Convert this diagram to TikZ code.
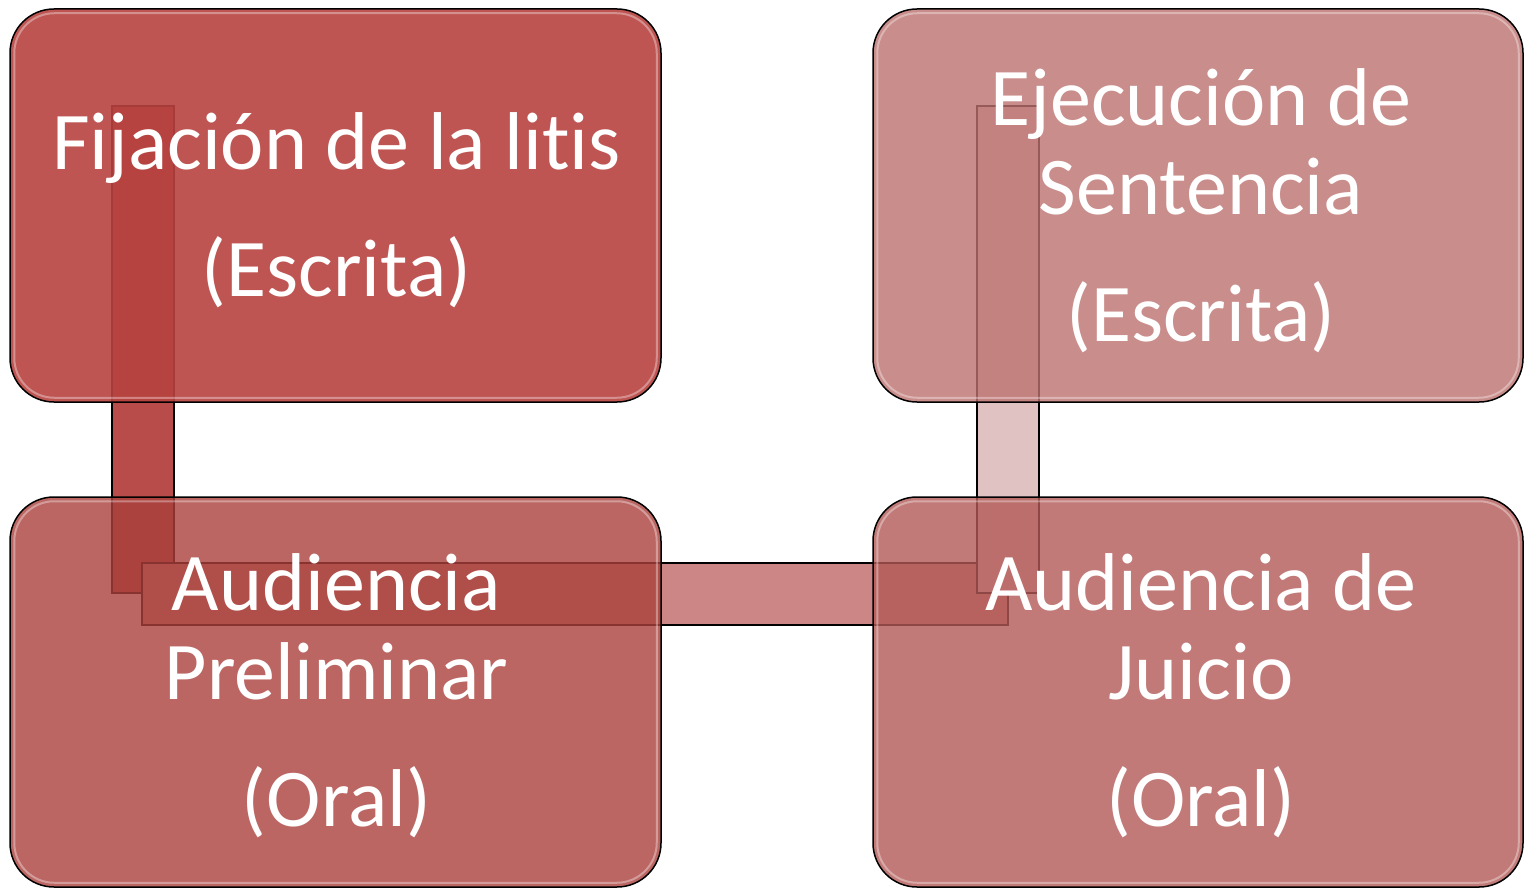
\documentclass[tikz,border=0pt]{standalone}
\usepackage{fontspec}
\setmainfont{Carlito}[Ligatures=NoCommon]
\usetikzlibrary{calc}
\definecolor{boxA}{RGB}{183,67,64}
\definecolor{boxB}{RGB}{188,113,110}
\definecolor{boxC}{RGB}{170,64,60}
\definecolor{boxD}{RGB}{178,89,86}
\definecolor{barL}{RGB}{183,76,74}
\definecolor{barH}{RGB}{203,134,133}
\definecolor{barR}{RGB}{225,194,195}
\tikzset{
  stagebox/.style={draw=black, line width=0.75pt, rounded corners=22pt,
    minimum width=325.5pt, minimum height=196.5pt, inner sep=0pt,
    fill opacity=0.8},
  stagetext/.style={text=white, align=center, inner sep=0pt,
    font=\fontsize{41}{44.5}\selectfont},
  connbar/.style={draw=black, line width=0.7pt},
  gloss/.style={draw=white, draw opacity=0.35, line width=1pt, rounded corners=20pt}
}
\begin{document}
\begin{tikzpicture}[x=0.5pt,y=-0.5pt]
\useasboundingbox (0,0) rectangle (1525,888);
% connectors (drawn below the boxes)
\coordinate (l1) at (112,106); \coordinate (l2) at (174,593);
\coordinate (h1) at (142,563); \coordinate (h2) at (1008,625);
\coordinate (r1) at (977,106); \coordinate (r2) at (1039,593);
\draw[connbar, fill=barL] (l1) rectangle (l2);
\draw[connbar, fill=barH] (h1) rectangle (h2);
\draw[connbar, fill=barR] (r1) rectangle (r2);
% boxes
\node[stagebox, fill=boxA, fill opacity=0.9] (b1) at (335.5,205.5) {};
\node[stagebox, fill=boxB, minimum width=325pt] (b2) at (1198,205.5) {};
\node[stagebox, fill=boxC, minimum height=195pt] (b3) at (335.5,692) {};
\node[stagebox, fill=boxD, minimum width=325pt, minimum height=195pt] (b4) at (1198,692) {};
% glossy inner edges
\foreach \b in {b1,b2,b3,b4}{
  \draw[gloss] ($(\b.north west)+(5,5)$) rectangle ($(\b.south east)+(-5,-5)$);
}
% texts
\node[stagetext] (t1) at ($(b1.center)+(1,5)$) {Fijación de la litis\\[19pt](Escrita)};
\node[stagetext] (t2) at ($(b2.center)+(3,5)$) {Ejecución de\\Sentencia\\[19pt](Escrita)};
\node[stagetext] (t3) at ($(b3.center)+(1,4)$) {Audiencia\\Preliminar\\[19pt](Oral)};
\node[stagetext] (t4) at ($(b4.center)+(3,4)$) {Audiencia de\\Juicio\\[19pt](Oral)};
\end{tikzpicture}
\end{document}
